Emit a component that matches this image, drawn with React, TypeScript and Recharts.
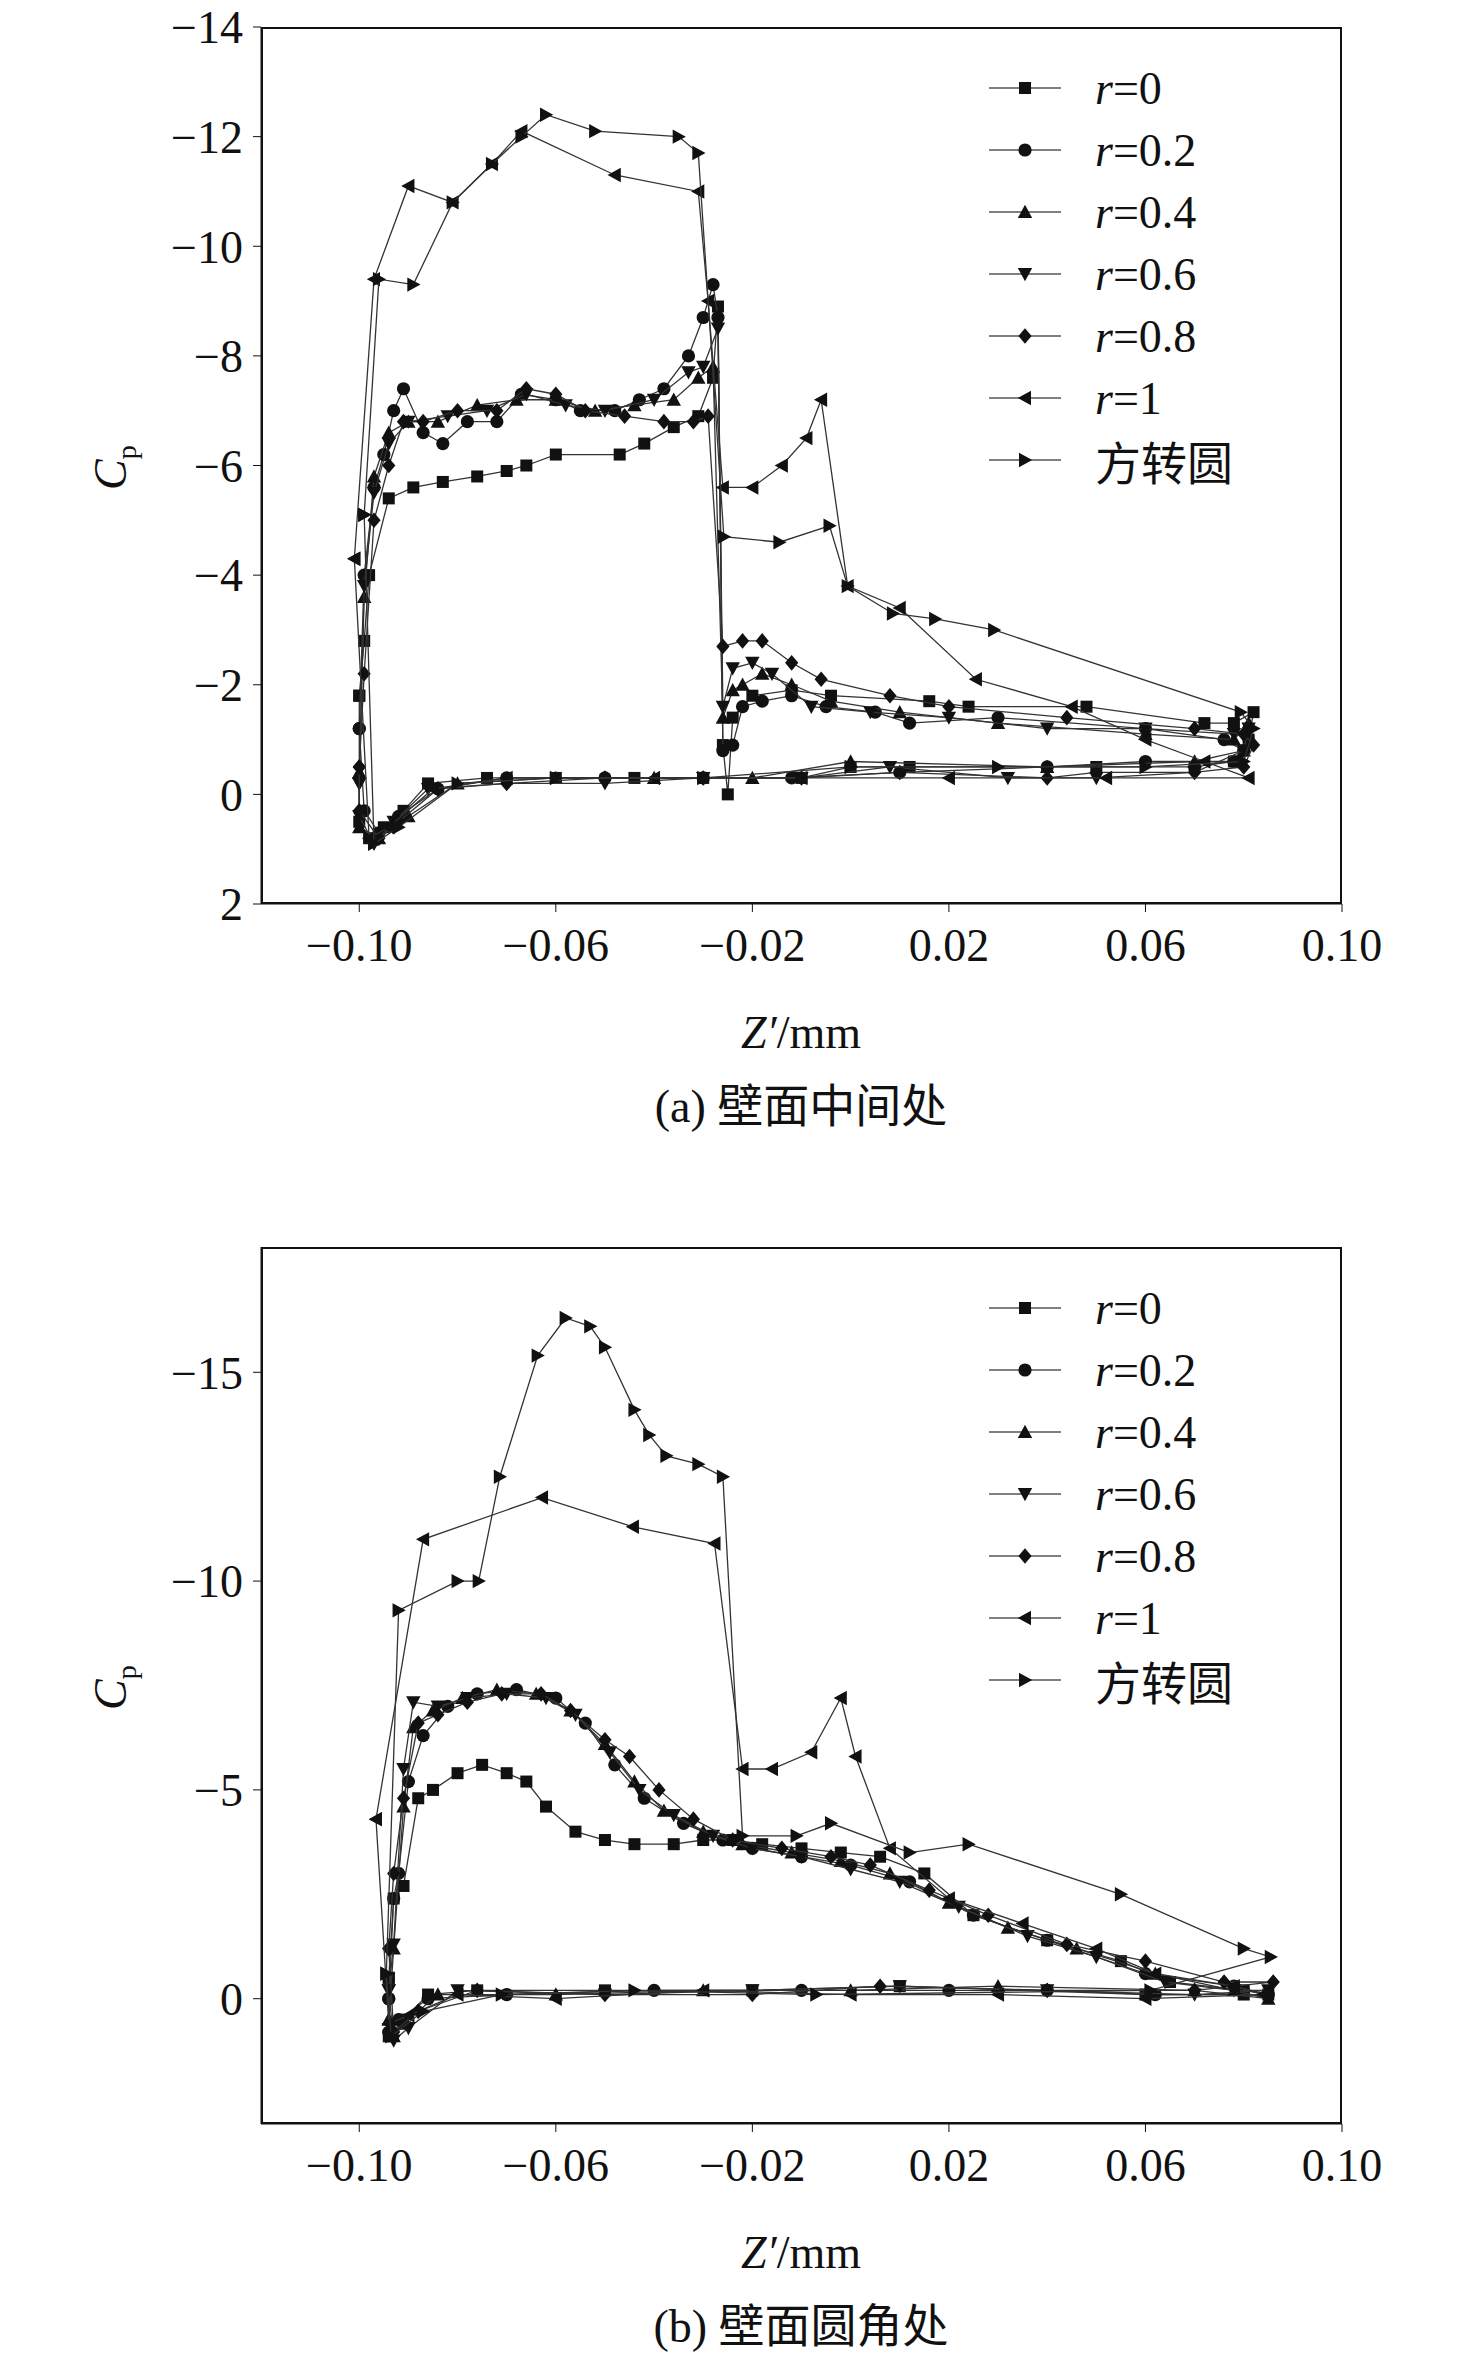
import { ScatterChart, Scatter, XAxis, YAxis } from 'recharts';

type Pt = [number, number];

// ---- (a) 壁面中间处 ----
const aR0: Pt[] = [[-0.100,-1.8],[-0.099,-2.8],[-0.098,-4.0],[-0.094,-5.4],[-0.089,-5.6],[-0.083,-5.7],[-0.076,-5.8],[-0.070,-5.9],[-0.066,-6.0],[-0.060,-6.2],[-0.047,-6.2],[-0.042,-6.4],[-0.036,-6.7],[-0.031,-6.9],[-0.028,-7.6],[-0.027,-8.9],[-0.026,-0.9],[-0.025,0.0],[-0.024,-1.4],[-0.020,-1.8],[-0.012,-1.9],[-0.004,-1.8],[0.016,-1.7],[0.024,-1.6],[0.048,-1.6],[0.072,-1.3],[0.078,-1.3],[0.082,-1.5],[0.081,-1.0],[0.078,-0.6],[0.070,-0.5],[0.050,-0.5],[0.012,-0.5],[0.000,-0.5],[-0.010,-0.3],[-0.030,-0.3],[-0.044,-0.3],[-0.060,-0.3],[-0.074,-0.3],[-0.086,-0.2],[-0.091,0.3],[-0.095,0.6],[-0.098,0.8],[-0.100,0.5],[-0.100,-1.8]];
const aR02: Pt[] = [[-0.100,-1.2],[-0.099,-4.0],[-0.097,-5.6],[-0.095,-6.2],[-0.093,-7.0],[-0.091,-7.4],[-0.087,-6.6],[-0.083,-6.4],[-0.078,-6.8],[-0.072,-6.8],[-0.067,-7.3],[-0.060,-7.2],[-0.055,-7.0],[-0.048,-7.0],[-0.043,-7.2],[-0.038,-7.4],[-0.033,-8.0],[-0.030,-8.7],[-0.028,-9.3],[-0.027,-8.7],[-0.026,-0.8],[-0.024,-0.9],[-0.022,-1.6],[-0.018,-1.7],[-0.012,-1.8],[-0.005,-1.6],[0.005,-1.5],[0.012,-1.3],[0.030,-1.4],[0.060,-1.2],[0.076,-1.0],[0.080,-0.8],[0.078,-0.6],[0.060,-0.6],[0.040,-0.5],[0.010,-0.4],[-0.012,-0.3],[-0.030,-0.3],[-0.050,-0.3],[-0.070,-0.3],[-0.084,-0.1],[-0.092,0.4],[-0.096,0.7],[-0.099,0.3],[-0.100,-1.2]];
const aR04: Pt[] = [[-0.100,-0.4],[-0.099,-3.6],[-0.097,-5.8],[-0.094,-6.6],[-0.090,-6.8],[-0.084,-6.8],[-0.076,-7.1],[-0.068,-7.2],[-0.060,-7.2],[-0.052,-7.0],[-0.044,-7.1],[-0.036,-7.2],[-0.031,-7.6],[-0.028,-7.8],[-0.026,-1.4],[-0.024,-1.9],[-0.022,-2.0],[-0.018,-2.2],[-0.012,-2.0],[-0.004,-1.7],[0.010,-1.5],[0.030,-1.3],[0.060,-1.1],[0.078,-1.0],[0.081,-1.3],[0.080,-0.8],[0.070,-0.6],[0.040,-0.5],[0.000,-0.6],[-0.020,-0.3],[-0.040,-0.3],[-0.060,-0.3],[-0.080,-0.2],[-0.090,0.4],[-0.096,0.8],[-0.100,0.6],[-0.100,-0.4]];
const aR06: Pt[] = [[-0.100,-0.2],[-0.099,-3.8],[-0.097,-5.5],[-0.094,-6.4],[-0.090,-6.8],[-0.082,-6.9],[-0.074,-7.0],[-0.066,-7.3],[-0.058,-7.1],[-0.050,-7.0],[-0.040,-7.2],[-0.033,-7.7],[-0.030,-7.8],[-0.027,-8.5],[-0.026,-1.6],[-0.024,-2.3],[-0.020,-2.4],[-0.016,-2.2],[-0.008,-1.6],[0.004,-1.5],[0.020,-1.4],[0.040,-1.2],[0.060,-1.2],[0.078,-1.1],[0.081,-1.2],[0.080,-0.8],[0.070,-0.4],[0.050,-0.3],[0.032,-0.3],[0.008,-0.5],[-0.010,-0.3],[-0.030,-0.3],[-0.050,-0.2],[-0.070,-0.2],[-0.086,-0.1],[-0.093,0.5],[-0.097,0.9],[-0.100,0.4],[-0.100,-0.2]];
const aR08: Pt[] = [[-0.100,-0.5],[-0.099,-2.2],[-0.097,-5.0],[-0.094,-6.0],[-0.091,-6.8],[-0.087,-6.8],[-0.080,-7.0],[-0.072,-7.0],[-0.066,-7.4],[-0.060,-7.3],[-0.054,-7.0],[-0.046,-6.9],[-0.038,-6.8],[-0.032,-6.8],[-0.029,-6.9],[-0.026,-2.7],[-0.022,-2.8],[-0.018,-2.8],[-0.012,-2.4],[-0.006,-2.1],[0.008,-1.8],[0.020,-1.6],[0.044,-1.4],[0.070,-1.2],[0.080,-1.1],[0.082,-0.9],[0.080,-0.5],[0.070,-0.4],[0.050,-0.4],[0.040,-0.3],[0.010,-0.4],[-0.010,-0.3],[-0.030,-0.3],[-0.050,-0.3],[-0.070,-0.2],[-0.084,-0.1],[-0.092,0.5],[-0.096,0.8],[-0.100,0.3],[-0.100,-0.5]];
const aR1: Pt[] = [[-0.101,-4.3],[-0.097,-9.4],[-0.090,-11.1],[-0.081,-10.8],[-0.073,-11.5],[-0.067,-12.1],[-0.048,-11.3],[-0.031,-11.0],[-0.029,-9.0],[-0.026,-5.6],[-0.020,-5.6],[-0.014,-6.0],[-0.009,-6.5],[-0.006,-7.2],[-0.0006,-3.8],[0.010,-3.4],[0.0255,-2.1],[0.045,-1.6],[0.060,-1.0],[0.072,-0.6],[0.081,-0.3],[0.052,-0.3],[0.020,-0.3],[-0.010,-0.3],[-0.040,-0.3],[-0.070,-0.3],[-0.085,-0.1],[-0.094,0.6],[-0.098,0.8],[-0.101,-4.3]];
const aSq: Pt[] = [[-0.099,-5.1],[-0.096,-9.4],[-0.089,-9.3],[-0.081,-10.8],[-0.073,-11.5],[-0.067,-12.0],[-0.062,-12.4],[-0.052,-12.1],[-0.035,-12.0],[-0.031,-11.7],[-0.0258,-4.7],[-0.0145,-4.6],[-0.0043,-4.9],[-0.0006,-3.8],[0.0086,-3.3],[0.0172,-3.2],[0.0292,-3.0],[0.0794,-1.5],[0.082,-1.2],[0.080,-0.6],[0.060,-0.5],[0.030,-0.5],[0.000,-0.5],[-0.030,-0.3],[-0.060,-0.3],[-0.080,-0.2],[-0.092,0.6],[-0.097,0.9],[-0.099,-5.1]];

// ---- (b) 壁面圆角处 ----
const bR0: Pt[] = [[-0.094,-0.5],[-0.093,-2.4],[-0.091,-2.7],[-0.088,-4.8],[-0.085,-5.0],[-0.080,-5.4],[-0.075,-5.6],[-0.070,-5.4],[-0.066,-5.2],[-0.062,-4.6],[-0.056,-4.0],[-0.050,-3.8],[-0.044,-3.7],[-0.036,-3.7],[-0.030,-3.8],[-0.024,-3.8],[-0.018,-3.7],[-0.010,-3.6],[-0.002,-3.5],[0.006,-3.4],[0.015,-3.0],[0.025,-2.0],[0.040,-1.4],[0.055,-0.9],[0.065,-0.4],[0.080,-0.2],[0.085,-0.1],[0.080,-0.1],[0.060,-0.1],[0.010,-0.3],[-0.020,-0.2],[-0.050,-0.2],[-0.076,-0.2],[-0.086,-0.1],[-0.091,0.5],[-0.094,0.9],[-0.094,-0.5]];
const bR02: Pt[] = [[-0.094,0.0],[-0.093,-2.4],[-0.092,-3.0],[-0.090,-5.2],[-0.087,-6.3],[-0.082,-7.0],[-0.076,-7.3],[-0.068,-7.4],[-0.060,-7.2],[-0.054,-6.6],[-0.048,-5.6],[-0.042,-4.8],[-0.034,-4.2],[-0.026,-3.8],[-0.020,-3.6],[-0.010,-3.4],[0.000,-3.2],[0.012,-2.8],[0.025,-2.0],[0.040,-1.4],[0.060,-0.6],[0.078,-0.3],[0.085,-0.1],[0.062,-0.1],[0.040,-0.2],[0.020,-0.2],[-0.010,-0.2],[-0.040,-0.2],[-0.070,-0.1],[-0.086,0.0],[-0.092,0.5],[-0.094,0.8],[-0.094,0.0]];
const bR04: Pt[] = [[-0.094,0.5],[-0.093,-1.2],[-0.091,-4.6],[-0.089,-6.5],[-0.085,-6.9],[-0.079,-7.2],[-0.072,-7.4],[-0.064,-7.3],[-0.057,-6.9],[-0.050,-6.1],[-0.044,-5.2],[-0.038,-4.5],[-0.030,-4.0],[-0.022,-3.7],[-0.012,-3.5],[-0.002,-3.3],[0.008,-3.0],[0.020,-2.3],[0.032,-1.7],[0.046,-1.2],[0.062,-0.6],[0.078,-0.2],[0.085,0.0],[0.070,-0.2],[0.030,-0.3],[0.000,-0.2],[-0.030,-0.2],[-0.060,-0.1],[-0.084,-0.1],[-0.091,0.6],[-0.093,0.9],[-0.094,0.5]];
const bR06: Pt[] = [[-0.094,-0.2],[-0.093,-1.3],[-0.091,-5.5],[-0.089,-7.1],[-0.084,-7.0],[-0.078,-7.2],[-0.070,-7.3],[-0.062,-7.2],[-0.056,-6.8],[-0.049,-5.9],[-0.043,-5.0],[-0.036,-4.4],[-0.028,-3.9],[-0.020,-3.6],[-0.010,-3.4],[0.000,-3.1],[0.010,-2.8],[0.022,-2.2],[0.036,-1.5],[0.050,-1.0],[0.064,-0.4],[0.078,-0.2],[0.085,-0.2],[0.070,-0.1],[0.040,-0.2],[0.010,-0.3],[-0.020,-0.2],[-0.050,-0.1],[-0.080,-0.2],[-0.090,0.7],[-0.093,1.0],[-0.094,-0.2]];
const bR08: Pt[] = [[-0.094,-1.2],[-0.093,-3.0],[-0.091,-4.8],[-0.088,-6.6],[-0.084,-6.8],[-0.078,-7.1],[-0.071,-7.3],[-0.063,-7.3],[-0.057,-6.9],[-0.050,-6.2],[-0.045,-5.8],[-0.039,-5.0],[-0.032,-4.3],[-0.024,-3.8],[-0.014,-3.6],[-0.004,-3.4],[0.004,-3.2],[0.016,-2.6],[0.028,-2.0],[0.044,-1.3],[0.060,-0.9],[0.076,-0.4],[0.086,-0.4],[0.070,-0.2],[0.040,-0.2],[0.006,-0.3],[-0.020,-0.1],[-0.050,-0.1],[-0.076,-0.2],[-0.088,0.3],[-0.093,0.8],[-0.094,-1.2]];
const bR1: Pt[] = [[-0.0966,-4.3],[-0.087,-11.0],[-0.0628,-12.0],[-0.0443,-11.3],[-0.0277,-10.9],[-0.022,-5.5],[-0.016,-5.5],[-0.008,-5.9],[-0.002,-7.2],[0.001,-5.8],[0.008,-3.6],[0.020,-2.4],[0.035,-1.8],[0.050,-1.2],[0.062,-0.6],[0.078,-0.3],[0.084,-0.1],[0.060,0.0],[0.030,-0.1],[0.000,-0.1],[-0.030,-0.2],[-0.060,0.0],[-0.080,-0.1],[-0.090,0.4],[-0.094,0.6],[-0.0966,-4.3]];
const bSq: Pt[] = [[-0.0945,-0.6],[-0.092,-9.3],[-0.080,-10.0],[-0.0757,-10.0],[-0.0714,-12.5],[-0.0637,-15.4],[-0.058,-16.3],[-0.053,-16.1],[-0.050,-15.6],[-0.044,-14.1],[-0.041,-13.5],[-0.0375,-13.0],[-0.031,-12.8],[-0.026,-12.5],[-0.022,-3.9],[-0.011,-3.9],[-0.004,-4.2],[0.012,-3.5],[0.024,-3.7],[0.055,-2.5],[0.080,-1.2],[0.0855,-1.0],[0.061,-0.2],[-0.007,-0.1],[-0.044,-0.2],[-0.071,-0.1],[-0.087,0.3],[-0.0935,0.9],[-0.0945,-0.6]];

const seriesNames = ['r=0', 'r=0.2', 'r=0.4', 'r=0.6', 'r=0.8', 'r=1', '方转圆'];
const markers = ['square', 'circle', 'up', 'down', 'diamond', 'left', 'right'];
const chartA = [aR0, aR02, aR04, aR06, aR08, aR1, aSq];
const chartB = [bR0, bR02, bR04, bR06, bR08, bR1, bSq];

const xTicks = [-0.1, -0.06, -0.02, 0.02, 0.06, 0.1];
const aYTicks = [-14, -12, -10, -8, -6, -4, -2, 0, 2];
const bYTicks = [-15, -10, -5, 0];

const font = '"Liberation Serif", "Noto Sans CJK SC", serif';
const ink = '#111';
const minus = (s: string) => s.replace('-', '−');

function markerPath(kind: string, cx: number, cy: number, s: number) {
  switch (kind) {
    case 'square': return <rect x={cx - s} y={cy - s} width={2 * s} height={2 * s} fill={ink} />;
    case 'circle': return <circle cx={cx} cy={cy} r={s * 1.1} fill={ink} />;
    case 'up': return <polygon points={`${cx},${cy - s * 1.2} ${cx - s * 1.2},${cy + s} ${cx + s * 1.2},${cy + s}`} fill={ink} />;
    case 'down': return <polygon points={`${cx},${cy + s * 1.2} ${cx - s * 1.2},${cy - s} ${cx + s * 1.2},${cy - s}`} fill={ink} />;
    case 'diamond': return <polygon points={`${cx},${cy - s * 1.3} ${cx + s * 1.1},${cy} ${cx},${cy + s * 1.3} ${cx - s * 1.1},${cy}`} fill={ink} />;
    case 'left': return <polygon points={`${cx - s * 1.2},${cy} ${cx + s},${cy - s * 1.2} ${cx + s},${cy + s * 1.2}`} fill={ink} />;
    default: return <polygon points={`${cx + s * 1.2},${cy} ${cx - s},${cy - s * 1.2} ${cx - s},${cy + s * 1.2}`} fill={ink} />;
  }
}

const makeShape = (kind: string) => (props: any) => <g>{markerPath(kind, props.cx, props.cy, 6)}</g>;

function Legend({ top }: { top: number }) {
  return (
    <>
      {seriesNames.map((name, i) => (
        <div key={name} style={{ position: 'absolute', left: 977, top: top + i * 62 - 30, height: 60, display: 'flex', alignItems: 'center', fontFamily: font, fontSize: 46, color: ink }}>
          <svg width={80} height={30}>
            <line x1={4} y1={15} x2={76} y2={15} stroke="#555" strokeWidth={1.5} />
            {markerPath(markers[i], 40, 15, 6)}
          </svg>
          <span style={{ marginLeft: 30 }}>
            {name.startsWith('r=') ? <><i>r</i>{name.slice(1)}</> : name}
          </span>
        </div>
      ))}
    </>
  );
}

function Panel({ series, yDomain, yTicks, top, caption }: { series: Pt[][]; yDomain: [number, number]; yTicks: number[]; top: number; caption: string }) {
  const tick = { fill: ink, fontSize: 46, fontFamily: font };
  return (
    <>
      <div style={{ position: 'absolute', left: 0, top }}>
        <ScatterChart width={1460} height={1000} margin={{ top: 19, left: 173, right: 126, bottom: 44 }}>
          <XAxis type="number" dataKey="x" domain={[-0.12, 0.1]} ticks={xTicks} tick={tick} height={60} interval={0}
            tickFormatter={(v: number) => minus(v.toFixed(2))} stroke={ink} tickSize={8} tickMargin={16} allowDataOverflow />
          <YAxis type="number" dataKey="y" domain={yDomain} ticks={yTicks} reversed tick={tick} width={80} interval={0}
            tickFormatter={(v: number) => minus(String(v))} stroke={ink} tickSize={8} tickMargin={10} allowDataOverflow />
          {series.map((pts, i) => (
            <Scatter key={i} data={pts.map(([x, y]) => ({ x, y }))} shape={makeShape(markers[i])}
              line={{ stroke: '#333', strokeWidth: 1.3 }} lineType="joint" isAnimationActive={false} />
          ))}
        </ScatterChart>
      </div>
      <div style={{ position: 'absolute', left: 253, top: top + 19, width: 1081, height: 877, border: `2px solid ${ink}`, boxSizing: 'border-box', pointerEvents: 'none' }} />
      <Legend top={top + 80} />
      <div style={{ position: 'absolute', left: 83, top: top + 430, transform: 'rotate(-90deg)', fontFamily: font, fontSize: 46, color: ink }}>
        <i>C</i><sub style={{ fontSize: 28 }}>p</sub>
      </div>
      <div style={{ position: 'absolute', left: 0, width: 1586, textAlign: 'center', top: top + 998, fontFamily: font, fontSize: 46, color: ink }}>
        <i>Z′</i>/mm
      </div>
      <div style={{ position: 'absolute', left: 0, width: 1586, textAlign: 'center', top: top + 1074, fontFamily: font, fontSize: 46, color: ink, lineHeight: 1.1 }}>
        {caption}
      </div>
    </>
  );
}

export default function App() {
  return (
    <div style={{ position: 'relative', width: 1460, height: 2350, background: '#fff' }}>
      <Panel series={chartA} yDomain={[-14, 2]} yTicks={aYTicks} top={0} caption="(a) 壁面中间处" />
      <Panel series={chartB} yDomain={[-18, 3]} yTicks={bYTicks} top={1220} caption="(b) 壁面圆角处" />
    </div>
  );
}
